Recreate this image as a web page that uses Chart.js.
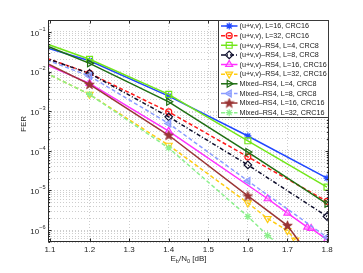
<!DOCTYPE html>
<html>
<head>
<meta charset="utf-8">
<script src="https://cdn.jsdelivr.net/npm/chart.js"></script>
<style>
  html, body { margin: 0; padding: 0; background: #fff; }
</style>
</head>
<body>
<canvas id="fer" width="363" height="273"></canvas>
<script>
// tick labels
const xTicks = [1.1, 1.2, 1.3, 1.4, 1.5, 1.6, 1.7, 1.8];
const yDecades = [-6, -5, -4, -3, -2, -1];

const seriesNames = [
    "(u+v,v), L=16, CRC16",
    "(u+v,v), L=32, CRC16",
    "(u+v,v)–RS4, L=4, CRC8",
    "(u+v,v)–RS4, L=8, CRC8",
    "(u+v,v)–RS4, L=16, CRC16",
    "(u+v,v)–RS4, L=32, CRC16",
    "Mixed–RS4, L=4, CRC8",
    "Mixed–RS4, L=8, CRC8",
    "Mixed–RS4, L=16, CRC16",
    "Mixed–RS4, L=32, CRC16"
];

// Eb/N0 [dB] and FER of each curve
const ebn0_uv16 = [1.0, 1.2, 1.4, 1.6, 1.8];
const fer_uv16 = [0.0741, 0.0188, 0.0024, 2.37e-4, 2.05e-5];

const ebn0_uv32 = [1.0, 1.2, 1.4, 1.6, 1.8];
const fer_uv32 = [0.0457, 0.0090, 9.6e-4, 7.05e-5, 5.3e-6];

const ebn0_rs4_4 = [1.0, 1.2, 1.4, 1.6, 1.8];
const fer_rs4_4 = [0.106, 0.0204, 0.00265, 1.79e-4, 1.21e-5];

const ebn0_rs4_8 = [1.0, 1.2, 1.4, 1.6, 1.8];
const fer_rs4_8 = [0.044, 0.0090, 7.2e-4, 4.4e-5, 2.2e-6];

const ebn0_rs4_16 = [1.0, 1.2, 1.4, 1.65, 1.7, 1.75, 1.76, 1.8];
const fer_rs4_16 = [0.0363, 0.00502, 3.12e-4, 6.17e-6, 2.69e-6, 1.19e-6, 1.10e-6, 5.74e-7];

const ebn0_rs4_32 = [1.0, 1.2, 1.4, 1.6, 1.65, 1.7, 1.72];
const fer_rs4_32 = [0.0257, 0.00265, 1.38e-4, 4.83e-6, 1.95e-6, 9.7e-7, 5.58e-7];

const ebn0_mix4 = [1.0, 1.2, 1.4, 1.6, 1.8];
const fer_mix4 = [0.105, 0.0161, 0.00172, 9.3e-5, 4.6e-6];

const ebn0_mix8 = [1.0, 1.2, 1.4, 1.6, 1.8];
const fer_mix8 = [0.0433, 0.00769, 4.89e-4, 1.74e-5, 6.58e-7];

const ebn0_mix16 = [1.0, 1.2, 1.4, 1.6, 1.7, 1.75];
const fer_mix16 = [0.0462, 0.00474, 2.47e-4, 7.26e-6, 1.30e-6, 2.7e-7];

const ebn0_mix32 = [1.0, 1.2, 1.4, 1.6, 1.65, 1.7];
const fer_mix32 = [0.0257, 0.00265, 1.18e-4, 2.2e-6, 7.26e-7, 3.0e-7];

const allX = [ebn0_uv16, ebn0_uv32, ebn0_rs4_4, ebn0_rs4_8, ebn0_rs4_16, ebn0_rs4_32, ebn0_mix4, ebn0_mix8, ebn0_mix16, ebn0_mix32];
const allY = [fer_uv16, fer_uv32, fer_rs4_4, fer_rs4_8, fer_rs4_16, fer_rs4_32, fer_mix4, fer_mix8, fer_mix16, fer_mix32];

// filled pentagram for the brown curve
function pentagram(color) {
    let c = document.createElement("canvas");
    c.width = 11; c.height = 11;
    let g = c.getContext("2d");
    g.beginPath();
    for (let i = 0; i < 10; i++) {
        let r = (i % 2 == 0) ? 5 : 2.1;
        let a = -Math.PI / 2 + i * Math.PI / 5;
        let px = 5.5 + r * Math.cos(a), py = 5.8 + r * Math.sin(a);
        if (i == 0) g.moveTo(px, py); else g.lineTo(px, py);
    }
    g.closePath();
    g.fillStyle = color;
    g.fill();
    g.strokeStyle = color;
    g.lineWidth = 0.8;
    g.stroke();
    return c;
}

const looks = [
    {color: "#2047ff", dash: [], style: "star", rot: 0, r: 3.5, fill: "#2047ff"},
    {color: "#ff1a1a", dash: [4, 2.5], style: "circle", rot: 0, r: 3, fill: "rgba(0,0,0,0)"},
    {color: "#72e619", dash: [], style: "rect", rot: 0, r: 4.2, fill: "rgba(0,0,0,0)"},
    {color: "#0d0d2b", dash: [4, 2, 1, 2], style: "rectRot", rot: 0, r: 3.8, fill: "rgba(0,0,0,0)"},
    {color: "#ff30ff", dash: [], style: "triangle", rot: 0, r: 4, fill: "rgba(255,170,255,0.5)"},
    {color: "#ffcc11", dash: [4, 2.5], style: "triangle", rot: 180, r: 4, fill: "rgba(0,0,0,0)"},
    {color: "#1f6e12", dash: [], style: "triangle", rot: 90, r: 4, fill: "rgba(0,0,0,0)"},
    {color: "#8a9cff", dash: [4, 2.5], style: "triangle", rot: 270, r: 4, fill: "rgba(150,165,255,0.6)"},
    {color: "#9a3535", dash: [], style: pentagram("#9a3535"), rot: 0, r: 4, fill: "#9a3535"},
    {color: "#8cf08c", dash: [4, 2.5], style: "star", rot: 0, r: 3.5, fill: "#8cf08c"}
];

// minor log grid: 1..9 x 10^d inside the axis range
const yMin = 5e-7, yMax = 0.2;
let yGrid = [];
for (let d = -7; d <= -1; d++) {
    for (let m = 1; m <= 9; m++) {
        let v = m * Math.pow(10, d);
        if (v >= yMin * 0.999 && v <= yMax * 1.001) yGrid.push(v);
    }
}

let datasets = [];
for (let i = 0; i < seriesNames.length; i++) {
    let lk = looks[i];
    datasets.push({
        label: seriesNames[i],
        data: allX[i].map((x, k) => ({x: x, y: allY[i][k]})),
        borderColor: lk.color,
        backgroundColor: lk.fill,
        borderWidth: 1.5,
        borderDash: lk.dash,
        pointStyle: lk.style,
        pointRotation: lk.rot,
        pointRadius: lk.r,
        pointBorderWidth: 1.2,
        pointBorderColor: lk.color,
        pointBackgroundColor: lk.fill,
        tension: 0,
        order: 10 - i
    });
}

const FONT = "'Liberation Sans', Arial, Helvetica, sans-serif";

const axesDeco = {
    id: "axesDeco",
    afterDraw(chart) {
        const ctx = chart.ctx;
        const a = chart.chartArea;
        const sx = chart.scales.x, sy = chart.scales.y;
        const L = Math.round(a.left) + 0.5, R = Math.round(a.right) - 0.5;
        const T = Math.round(a.top) + 0.5, B = Math.round(a.bottom) - 0.5;
        ctx.save();
        ctx.strokeStyle = "#2b2b2b";
        ctx.lineWidth = 1;
        ctx.strokeRect(L, T, R - L, B - T);

        // tick marks, inside
        ctx.beginPath();
        xTicks.forEach(v => {
            let px = Math.round(sx.getPixelForValue(v)) + 0.5;
            ctx.moveTo(px, B); ctx.lineTo(px, B - 3);
            ctx.moveTo(px, T); ctx.lineTo(px, T + 3);
        });
        yGrid.forEach(v => {
            let py = Math.round(sy.getPixelForValue(v)) + 0.5;
            let major = Math.abs(Math.log10(v) - Math.round(Math.log10(v))) < 1e-6;
            let len = major ? 3 : 1.7;
            ctx.moveTo(L, py); ctx.lineTo(L + len, py);
            ctx.moveTo(R, py); ctx.lineTo(R - len, py);
        });
        ctx.stroke();

        // tick labels
        ctx.fillStyle = "#262626";
        ctx.textBaseline = "middle";
        ctx.textAlign = "center";
        ctx.font = "8px " + FONT;
        xTicks.forEach(v => {
            ctx.fillText(v.toFixed(1), sx.getPixelForValue(v), a.bottom + 7.5);
        });
        yDecades.forEach(d => {
            let py = sy.getPixelForValue(Math.pow(10, d));
            let ex = "\u2212" + Math.abs(d);
            ctx.font = "5.6px " + FONT;
            let ew = ctx.measureText(ex).width;
            ctx.textAlign = "left";
            ctx.fillText(ex, a.left - 2.5 - ew, py - 2.8);
            ctx.font = "8px " + FONT;
            ctx.textAlign = "right";
            ctx.fillText("10", a.left - 2.5 - ew, py + 1.5);
        });

        // axis titles
        ctx.textAlign = "left";
        let parts = [["E", 8, 0], ["b", 5.6, 2.8], ["/N", 8, 0], ["0", 5.6, 2.8], [" [dB]", 8, 0]];
        let total = 0;
        parts.forEach(p => { ctx.font = p[1] + "px " + FONT; total += ctx.measureText(p[0]).width; });
        let tx = (a.left + a.right) / 2 - total / 2;
        parts.forEach(p => {
            ctx.font = p[1] + "px " + FONT;
            ctx.fillText(p[0], tx, a.bottom + 16.5 + p[2]);
            tx += ctx.measureText(p[0]).width;
        });

        ctx.save();
        ctx.translate(23.5, 124);
        ctx.rotate(-Math.PI / 2);
        ctx.textAlign = "center";
        ctx.font = "8px " + FONT;
        ctx.fillText("FER", 0, 0);
        ctx.restore();

        // legend box in the upper right corner
        const bx = 218.5, bw = R - 218.5, by = T, bh = 97;
        ctx.fillStyle = "#ffffff";
        ctx.fillRect(bx, by, bw, bh);
        ctx.strokeStyle = "#3a3a3a";
        ctx.strokeRect(bx, by, bw, bh);
        ctx.font = "7.2px " + FONT;
        ctx.textAlign = "left";
        ctx.textBaseline = "middle";
        for (let i = 0; i < seriesNames.length; i++) {
            let lk = looks[i];
            let ry = 26 + i * 9.63;
            ctx.save();
            ctx.strokeStyle = lk.color;
            ctx.lineWidth = 1.5;
            ctx.setLineDash(lk.dash);
            ctx.beginPath();
            ctx.moveTo(221, ry); ctx.lineTo(237.5, ry);
            ctx.stroke();
            ctx.setLineDash([]);
            ctx.fillStyle = lk.fill;
            ctx.lineWidth = 1.2;
            Chart.helpers.drawPoint(ctx, {pointStyle: lk.style, rotation: lk.rot, radius: lk.r, borderWidth: 1.2}, 229.2, ry);
            ctx.restore();
            ctx.fillStyle = "#1a1a1a";
            ctx.fillText(seriesNames[i], 239.5, ry + 0.3);
        }
        ctx.restore();
    }
};

const gridOpts = {color: "#cdcdcd", lineWidth: 1, drawTicks: false};

new Chart(document.getElementById("fer"), {
    type: "line",
    data: {datasets: datasets},
    options: {
        responsive: false,
        animation: false,
        devicePixelRatio: 1,
        layout: {padding: {left: 48, right: 34, top: 20, bottom: 31}},
        plugins: {legend: {display: false}, tooltip: {enabled: false}},
        scales: {
            x: {
                type: "linear", min: 1.095, max: 1.805,
                afterBuildTicks: s => { s.ticks = xTicks.map(v => ({value: v})); },
                ticks: {display: false},
                grid: gridOpts,
                border: {display: false, dash: [1, 2]}
            },
            y: {
                type: "logarithmic", min: yMin, max: yMax,
                afterBuildTicks: s => { s.ticks = yGrid.map(v => ({value: v})); },
                ticks: {display: false},
                grid: gridOpts,
                border: {display: false, dash: [1, 2]}
            }
        }
    },
    plugins: [axesDeco]
});
</script>
</body>
</html>
